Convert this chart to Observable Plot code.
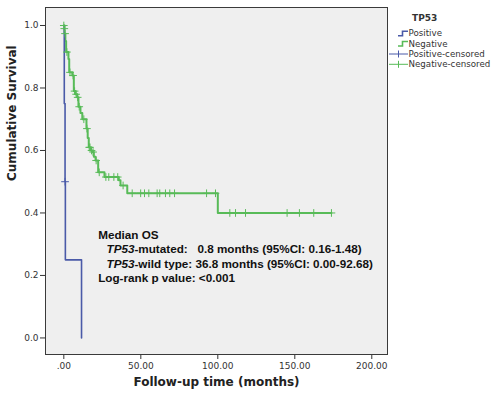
<!DOCTYPE html>
<html>
<head>
<meta charset="utf-8">
<script src="https://cdn.jsdelivr.net/npm/d3@7"></script>
<script src="https://cdn.jsdelivr.net/npm/@observablehq/plot@0.6"></script>
<style>
  html, body { margin: 0; padding: 0; background: #ffffff; }
</style>
</head>
<body>
<div id="chart"></div>
<script>
// ---- Data ----
const groupNames = ["Positive", "Negative"];
const legendTitle = "TP53";
const legendLabels = ["Positive", "Negative", "Positive-censored", "Negative-censored"];

// Positive (TP53-mutated) step curve
const posTimes = [0, 0.3, 0.8, 1.0, 11.5];
const posSurv  = [1.0, 0.75, 0.5, 0.25, 0.0];
const posCensTimes = [0.8];
const posCensSurv  = [0.5];

// Negative (TP53-wild type) step curve
const negTimes = [0, 0.5, 1.0, 1.5, 3.0, 3.5, 5.5, 6.5, 7.5, 8.7, 9.5, 10.8, 12, 14.7, 15.5, 16.2, 17.5, 18.4, 19.5, 20.6, 22.3, 26.4, 35.7, 36.8, 41.2, 100, 173.8];
const negSurv  = [1.0, 0.974, 0.95, 0.915, 0.893, 0.85, 0.84, 0.79, 0.78, 0.77, 0.74, 0.72, 0.70, 0.67, 0.64, 0.61, 0.60, 0.595, 0.58, 0.568, 0.53, 0.515, 0.505, 0.488, 0.463, 0.40, 0.40];
const negCensTimes = [0, 0.3, 0.8, 2, 4, 6, 7, 8, 9, 10, 13, 15, 16.5, 17, 18, 19, 21, 23, 27.3, 29.2, 32.5, 35, 38.5,
  44.4, 49.9, 52.4, 55.2, 60.6, 62.3, 66, 68.8, 71.9, 92.7, 98.5,
  107.8, 111.5, 118, 145, 153, 162.3, 173.8];
const negCensSurv = [1.0, 0.99, 0.974, 0.915, 0.85, 0.84, 0.79, 0.78, 0.77, 0.74, 0.70, 0.67, 0.61, 0.61, 0.60, 0.595, 0.568, 0.53, 0.515, 0.515, 0.515, 0.515, 0.488,
  0.463, 0.463, 0.463, 0.463, 0.463, 0.463, 0.463, 0.463, 0.463, 0.463, 0.463,
  0.40, 0.40, 0.40, 0.40, 0.40, 0.40, 0.40];

const xTicks = [0, 50, 100, 150, 200];
const xTickLabels = [".00", "50.00", "100.00", "150.00", "200.00"];
const yTicks = [0, 0.2, 0.4, 0.6, 0.8, 1.0];
const yTickLabels = ["0.0", "0.2", "0.4", "0.6", "0.8", "1.0"];

const xTitle = "Follow-up time (months)";
const yTitle = "Cumulative Survival";
const notes = [
  "Median OS",
  "TP53-mutated:   0.8 months (95%CI: 0.16-1.48)",
  "TP53-wild type: 36.8 months (95%CI: 0.00-92.68)",
  "Log-rank p value: <0.001"
];

// ---- Build tables ----
const posData = posTimes.map((t, i) => ({t, s: posSurv[i]}));
const negData = negTimes.map((t, i) => ({t, s: negSurv[i]}));
const posCens = posCensTimes.map((t, i) => ({t, s: posCensSurv[i]}));
const negCens = negCensTimes.map((t, i) => ({t, s: negCensSurv[i]}));

const BLUE = "#4a5aa8";
const GREEN = "#58bb58";

const noteFont = "'Liberation Sans', Arial, sans-serif";

const chart = Plot.plot({
  width: 500,
  height: 399,
  marginLeft: 45,
  marginRight: 113,
  marginTop: 7,
  marginBottom: 45,
  style: {fontFamily: "'DejaVu Sans', sans-serif", fontSize: "9px", color: "#333", background: "#ffffff"},
  x: {domain: [-11.9, 210.2]},
  y: {domain: [-0.053, 1.0576]},
  marks: [
    Plot.frame({fill: "#efefef", stroke: "none"}),
    Plot.axisX({ticks: xTicks, tickFormat: (d) => xTickLabels[xTicks.indexOf(d)], tickSize: 5, tickPadding: 3, label: null, stroke: "#333"}),
    Plot.axisY({ticks: yTicks, tickFormat: (d) => yTickLabels[yTicks.findIndex(v => Math.abs(v - d) < 1e-9)], tickSize: 5, tickPadding: 2, label: null, stroke: "#333"}),
    Plot.line(negData, {x: "t", y: "s", curve: "step-after", stroke: GREEN, strokeWidth: 2}),
    Plot.line(posData, {x: "t", y: "s", curve: "step-after", stroke: BLUE, strokeWidth: 1.6}),
    Plot.dot(negCens, {x: "t", y: "s", symbol: "plus", r: 2.6, stroke: GREEN, strokeWidth: 1}),
    Plot.dot(posCens, {x: "t", y: "s", symbol: "plus", r: 2.6, stroke: BLUE, strokeWidth: 1}),
    Plot.frame({stroke: "#3a3a3a", strokeWidth: 1}),
    Plot.text([xTitle], {frameAnchor: "bottom", dy: 31, fontWeight: "bold", fontSize: 12, fill: "#222"}),
    Plot.text([yTitle], {frameAnchor: "left", dx: -33, rotate: -90, fontWeight: "bold", fontSize: 12, fill: "#222"}),
    Plot.text([notes[0]], {frameAnchor: "top-left", textAnchor: "start", dx: 52.7, dy: 223, fontWeight: "bold", fontSize: 11.7, fontFamily: noteFont, fill: "#111"}),
    Plot.text([notes[1]], {frameAnchor: "top-left", textAnchor: "start", dx: 61, dy: 237.3, fontWeight: "bold", fontSize: 11.7, fontFamily: noteFont, fill: "#111", className: "tpnote"}),
    Plot.text([notes[2]], {frameAnchor: "top-left", textAnchor: "start", dx: 61, dy: 251.7, fontWeight: "bold", fontSize: 11.7, fontFamily: noteFont, fill: "#111", className: "tpnote"}),
    Plot.text([notes[3]], {frameAnchor: "top-left", textAnchor: "start", dx: 52.7, dy: 266, fontWeight: "bold", fontSize: 11.7, fontFamily: noteFont, fill: "#111"})
  ]
});

document.getElementById("chart").appendChild(chart);

// Italicise the gene name in the annotation lines
d3.select(chart).selectAll(".tpnote text").each(function() {
  const el = d3.select(this);
  const txt = this.textContent;
  const head = "TP53";
  if (txt.startsWith(head)) {
    el.text(null).attr("xml:space", "preserve").style("white-space", "pre");
    el.append("tspan").style("font-style", "italic").text(head);
    el.append("tspan").text(txt.slice(head.length));
  }
});

// Legend (right margin)
const svg = d3.select(chart);
const lg = svg.append("g").attr("font-family", "'DejaVu Sans', sans-serif").attr("fill", "#333").attr("text-anchor", "start");
lg.append("text").attr("x", 412).attr("y", 21).attr("text-anchor", "start").attr("font-weight", "bold").attr("font-size", 9).attr("fill", "#333").text(legendTitle);
const rowY = [33.3, 43.5, 54, 64.3];
const colors = [BLUE, GREEN, BLUE, GREEN];
legendLabels.forEach((lab, i) => {
  const y = rowY[i];
  if (i < 2) {
    lg.append("path").attr("d", `M398,${y + 2.5}H402.5V${y - 2}H408`).attr("fill", "none").attr("stroke", colors[i]).attr("stroke-width", 1.6);
  } else {
    lg.append("path").attr("d", `M389,${y}H408`).attr("fill", "none").attr("stroke", colors[i]).attr("stroke-width", 1);
    lg.append("path").attr("d", `M398.5,${y - 3.5}V${y + 3.5}`).attr("fill", "none").attr("stroke", colors[i]).attr("stroke-width", 1);
  }
  lg.append("text").attr("x", 408.5).attr("y", y).attr("dy", "0.35em").attr("text-anchor", "start").attr("font-size", 8.7).text(lab);
});
</script>
</body>
</html>
